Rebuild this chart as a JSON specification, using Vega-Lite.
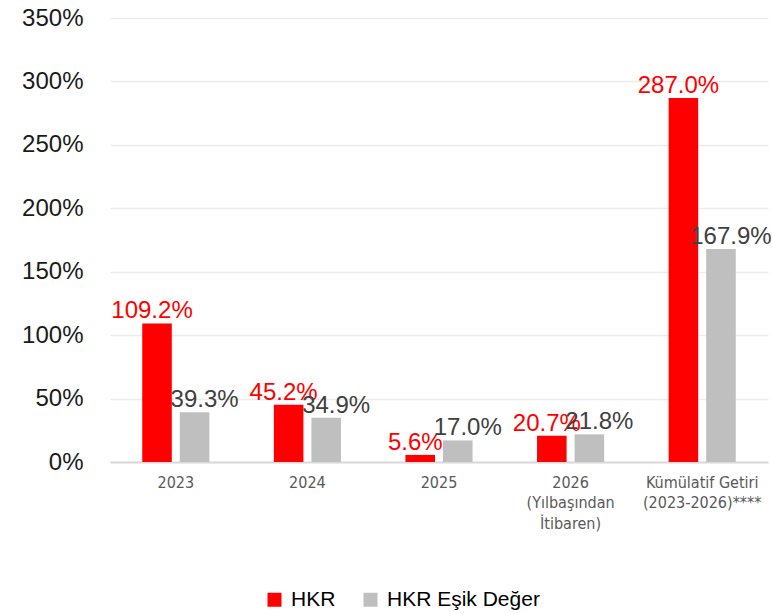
{
  "$schema": "https://vega.github.io/schema/vega-lite/v6.json",
  "width": 658,
  "height": 444,
  "autosize": {"type": "none"},
  "padding": {"left": 110, "top": 18, "right": 4, "bottom": 152},
  "background": "white",
  "config": {
    "view": {"stroke": null},
    "font": "Liberation Sans"
  },
  "data": {
    "values": [
      {"category": "2023", "series": "HKR", "value": 1.092},
      {"category": "2023", "series": "HKR Eşik Değer", "value": 0.393},
      {"category": "2024", "series": "HKR", "value": 0.452},
      {"category": "2024", "series": "HKR Eşik Değer", "value": 0.349},
      {"category": "2025", "series": "HKR", "value": 0.056},
      {"category": "2025", "series": "HKR Eşik Değer", "value": 0.170},
      {"category": "2026|(Yılbaşından|İtibaren)", "series": "HKR", "value": 0.207},
      {"category": "2026|(Yılbaşından|İtibaren)", "series": "HKR Eşik Değer", "value": 0.218},
      {"category": "Kümülatif Getiri|(2023-2026)****", "series": "HKR", "value": 2.870},
      {"category": "Kümülatif Getiri|(2023-2026)****", "series": "HKR Eşik Değer", "value": 1.679}
    ]
  },
  "encoding": {
    "x": {
      "field": "category",
      "type": "nominal",
      "sort": null,
      "scale": {"paddingInner": 0.49, "paddingOuter": 0.245},
      "axis": {
        "title": null,
        "labelAngle": 0,
        "labelExpr": "split(datum.value, '|')",
        "labelFont": "DejaVu Sans Condensed, Liberation Sans",
        "labelFontSize": 16,
        "labelColor": "#595959",
        "labelLineHeight": 20.5,
        "labelPadding": 12,
        "ticks": false,
        "domainColor": "#d9d9d9",
        "domainWidth": 2,
        "labelBaseline": "top"
      }
    },
    "xOffset": {
      "field": "series",
      "type": "nominal",
      "scale": {"paddingInner": 0.213, "paddingOuter": 0}
    },
    "y": {
      "field": "value",
      "type": "quantitative",
      "scale": {"domain": [0, 3.5], "nice": false},
      "axis": {
        "title": null,
        "values": [0, 0.5, 1, 1.5, 2, 2.5, 3, 3.5],
        "format": ".0%",
        "labelFontSize": 24,
        "labelColor": "#1a1a1a",
        "labelPadding": 27,
        "ticks": false,
        "domain": false,
        "gridColor": "#ececec",
        "gridWidth": 1.5
      }
    }
  },
  "layer": [
    {
      "mark": {"type": "bar"},
      "encoding": {
        "color": {
          "field": "series",
          "type": "nominal",
          "scale": {"domain": ["HKR", "HKR Eşik Değer"], "range": ["#ff0000", "#bfbfbf"]},
          "legend": {
            "title": null,
            "orient": "none",
            "direction": "horizontal",
            "legendX": 154,
            "legendY": 571,
            "padding": 0,
            "symbolType": "square",
            "symbolSize": 196,
            "symbolStrokeWidth": 0,
            "labelFontSize": 21,
            "labelColor": "#000000",
            "labelOffset": 6,
            "columnPadding": 24
          }
        }
      }
    },
    {
      "transform": [{"filter": "datum.series == 'HKR'"}],
      "mark": {"type": "text", "baseline": "alphabetic", "dy": -5, "dx": -5, "fontSize": 24, "color": "#ff0000"},
      "encoding": {
        "text": {"field": "value", "type": "quantitative", "format": ".1%"}
      }
    },
    {
      "transform": [{"filter": "datum.series == 'HKR Eşik Değer'"}],
      "mark": {"type": "text", "baseline": "alphabetic", "dy": -5, "dx": 10, "fontSize": 24, "color": "#404040"},
      "encoding": {
        "text": {"field": "value", "type": "quantitative", "format": ".1%"}
      }
    }
  ]
}
